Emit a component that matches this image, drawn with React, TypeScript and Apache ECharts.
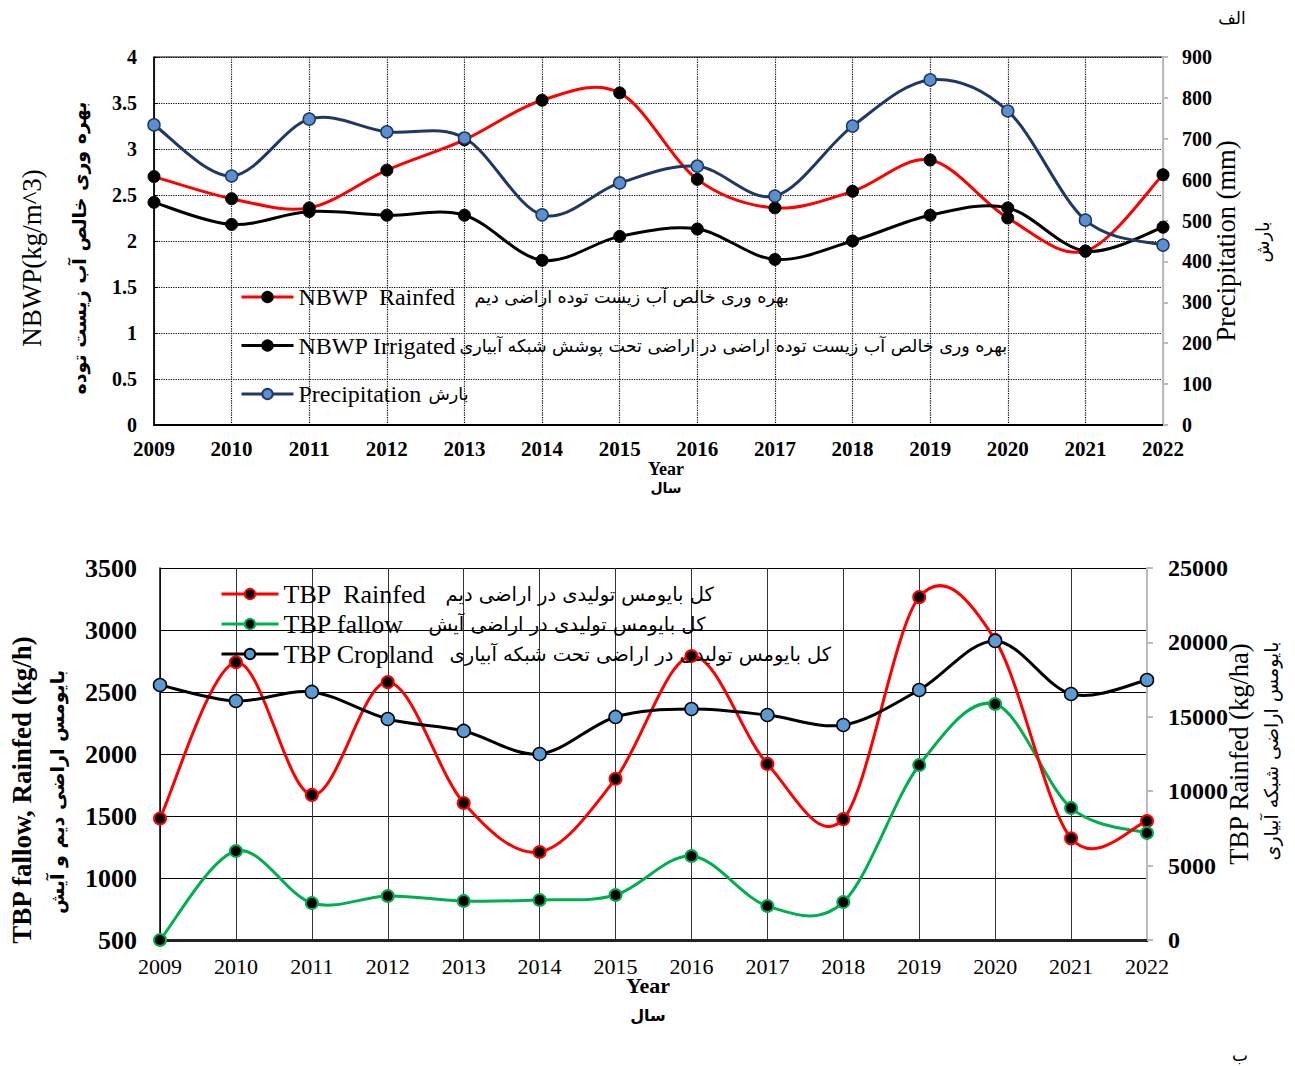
import React, { useEffect, useRef } from "react";
import * as echarts from "echarts";

const years = ["2009","2010","2011","2012","2013","2014","2015","2016","2017","2018","2019","2020","2021","2022"];

// top chart
const nbwpRainfed = [2.70, 2.46, 2.36, 2.77, 3.10, 3.53, 3.61, 2.67, 2.36, 2.54, 2.88, 2.25, 1.89, 2.72];
const nbwpIrrigated = [2.42, 2.18, 2.32, 2.28, 2.28, 1.79, 2.05, 2.13, 1.80, 2.00, 2.28, 2.36, 1.89, 2.15];
const precipitation = [734, 609, 748, 717, 702, 514, 592, 633, 560, 731, 844, 768, 501, 440];

// bottom chart
const tbpRainfed = [1480, 2740, 1670, 2580, 1605, 1210, 1800, 2790, 1920, 1475, 3265, 2920, 1320, 1460];
const tbpFallow = [500, 1218, 798, 855, 815, 823, 863, 1177, 774, 806, 1911, 2403, 1565, 1363];
const tbpCropland = [17140, 16060, 16670, 14850, 14050, 12500, 14990, 15520, 15120, 14450, 16800, 20100, 16530, 17470];

const SERIF = "Liberation Serif";
const FA = "DejaVu Sans";

const legendLabels: Record<string, [string, string, string]> = {
  "NBWP Rainfed": ["e1", "NBWP  Rainfed", "بهره وری خالص آب زیست توده اراضی دیم"],
  "NBWP Irrigated": ["e2", "NBWP Irrigated", "بهره وری خالص آب زیست توده اراضی در اراضی تحت پوشش شبکه آبیاری"],
  "Precipitation": ["e3", "Precipitation", "بارش"],
  "TBP Rainfed": ["b1", "TBP  Rainfed", "کل بایومس تولیدی در اراضی دیم"],
  "TBP fallow": ["b2", "TBP fallow", "کل بایومس تولیدی در اراضی آیش"],
  "TBP Cropland": ["b3", "TBP Cropland", "کل بایومس تولیدی در اراضی تحت شبکه آبیاری"],
};

function vText(x: number, y: number, text: string, size: number, bold: boolean, family: string) {
  return {
    type: "text",
    x,
    y,
    rotation: Math.PI / 2,
    style: {
      text,
      fontSize: size,
      fontWeight: bold ? "bold" : "normal",
      fontFamily: family,
      fill: "#000",
      textAlign: "center",
      textVerticalAlign: "middle",
    },
  };
}
function hText(x: number, y: number, text: string, size: number, bold: boolean, family: string) {
  return {
    type: "text",
    x,
    y,
    style: {
      text,
      fontSize: size,
      fontWeight: bold ? "bold" : "normal",
      fontFamily: family,
      fill: "#000",
      textAlign: "center",
      textVerticalAlign: "middle",
    },
  };
}

// Excel-like smoothed curve (Catmull-Rom through the data points), drawn through the axes via api.coord
function curveSeries(name: string, values: number[], xIdx: number, yIdx: number, color: string) {
  return {
    name,
    type: "custom",
    xAxisIndex: xIdx,
    yAxisIndex: yIdx,
    data: [[0, values[0]]],
    encode: { x: 0, y: 1 },
    silent: true,
    z: 2,
    renderItem: (params: any, api: any) => {
      const pts = values.map((v, i) => api.coord([i, v]));
      const t = 1 / 6;
      let d = `M${pts[0][0]},${pts[0][1]}`;
      for (let i = 0; i < pts.length - 1; i++) {
        const p0 = pts[i - 1] || pts[i];
        const p1 = pts[i];
        const p2 = pts[i + 1];
        const p3 = pts[i + 2] || p2;
        const c1x = p1[0] + (p2[0] - p0[0]) * t;
        const c1y = p1[1] + (p2[1] - p0[1]) * t;
        const c2x = p2[0] - (p3[0] - p1[0]) * t;
        const c2y = p2[1] - (p3[1] - p1[1]) * t;
        d += ` C${c1x},${c1y} ${c2x},${c2y} ${p2[0]},${p2[1]}`;
      }
      return {
        type: "path",
        shape: { pathData: d },
        style: { fill: "none", stroke: color, lineWidth: 3 },
      };
    },
  };
}

function markerSeries(name: string, values: number[], xIdx: number, yIdx: number, lineColor: string, fill: string, border: string, bw: number, size: number) {
  return {
    name,
    type: "line",
    xAxisIndex: xIdx,
    yAxisIndex: yIdx,
    data: values,
    symbol: "circle",
    symbolSize: size,
    z: 3,
    lineStyle: { color: lineColor, width: 3, opacity: 0 },
    itemStyle: { color: fill, borderColor: border, borderWidth: bw },
  };
}

export default function App() {
  const ref = useRef<HTMLDivElement>(null);
  useEffect(() => {
    document.body.style.margin = "0";
    if (!ref.current) return;
    const chart = echarts.init(ref.current, null, { renderer: "svg" });
    const enTop = (w: number) => ({ fontFamily: SERIF, fontSize: 24, color: "#000", width: w, lineHeight: 26 });
    const enBot = (w: number) => ({ fontFamily: SERIF, fontSize: 26, color: "#000", width: w, lineHeight: 28 });
    const legendFormatter = (name: string) => {
      const l = legendLabels[name];
      return `{${l[0]}|${l[1]}}{fa|${l[2]}}`;
    };
    const legItem = (name: string, color: string) => ({ name, lineStyle: { color, width: 3, opacity: 1 } });
    const option: any = {
      animation: false,
      backgroundColor: "#fff",
      grid: [
        { left: 154, right: 132, top: 57, height: 368, show: true, borderColor: "#000", borderWidth: 1 },
        { left: 160, right: 148, top: 568, height: 372, show: false },
      ],
      legend: [
        {
          orient: "vertical",
          left: 240,
          top: 285,
          padding: 0,
          itemWidth: 52,
          itemHeight: 13,
          itemGap: 24.5,
          data: [legItem("NBWP Rainfed", "#ff0000"), legItem("NBWP Irrigated", "#000"), legItem("Precipitation", "#1f3864")],
          formatter: legendFormatter,
          textStyle: {
            rich: {
              e1: enTop(176),
              e2: enTop(161),
              e3: enTop(130),
              fa: { fontFamily: FA, fontSize: 17.5, color: "#000", lineHeight: 26 },
            },
          },
        },
        {
          orient: "vertical",
          left: 220,
          top: 581,
          padding: 0,
          itemWidth: 57,
          itemHeight: 13,
          itemGap: 4,
          data: [legItem("TBP Rainfed", "#ff0000"), legItem("TBP fallow", "#00b050"), legItem("TBP Cropland", "#000")],
          formatter: legendFormatter,
          textStyle: {
            rich: {
              b1: enBot(162),
              b2: enBot(145),
              b3: enBot(166),
              fa: { fontFamily: FA, fontSize: 19.5, color: "#000", lineHeight: 28 },
            },
          },
        },
      ],
      xAxis: [
        {
          type: "category",
          gridIndex: 0,
          data: years,
          boundaryGap: false,
          axisLine: { lineStyle: { color: "#000", width: 2 } },
          axisTick: { show: false },
          axisLabel: { fontFamily: SERIF, fontWeight: "bold", fontSize: 21, color: "#000", margin: 13 },
          splitLine: { show: true, lineStyle: { type: "dotted", color: "#000", width: 1.2 } },
        },
        {
          type: "category",
          gridIndex: 1,
          data: years,
          boundaryGap: false,
          axisLine: { lineStyle: { color: "#222", width: 3 } },
          axisTick: { show: false },
          axisLabel: { fontFamily: SERIF, fontSize: 22, color: "#000", margin: 15 },
          splitLine: { show: true, lineStyle: { type: "solid", color: "#333", width: 1 } },
        },
      ],
      yAxis: [
        {
          type: "value",
          gridIndex: 0,
          min: 0,
          max: 4,
          interval: 0.5,
          axisLine: { show: true, lineStyle: { color: "#000", width: 1.5 } },
          axisTick: { show: true, inside: true, length: 4, lineStyle: { color: "#000" } },
          axisLabel: { fontFamily: SERIF, fontWeight: "bold", fontSize: 20, color: "#000", margin: 17 },
          splitLine: { show: true, lineStyle: { type: "dotted", color: "#000", width: 1.2 } },
        },
        {
          type: "value",
          gridIndex: 0,
          position: "right",
          min: 0,
          max: 900,
          interval: 100,
          axisLine: { show: true, lineStyle: { color: "#bbb", width: 2 } },
          axisTick: { show: true, length: 5, lineStyle: { color: "#bbb", width: 2 } },
          axisLabel: { fontFamily: SERIF, fontWeight: "bold", fontSize: 20, color: "#000", margin: 19 },
          splitLine: { show: false },
        },
        {
          type: "value",
          gridIndex: 1,
          min: 500,
          max: 3500,
          interval: 500,
          axisLine: { show: true, lineStyle: { color: "#000", width: 1.5 } },
          axisTick: { show: false },
          axisLabel: { fontFamily: SERIF, fontWeight: "bold", fontSize: 26, color: "#000", margin: 23, formatter: (v: number) => String(v) },
          splitLine: { show: true, lineStyle: { type: "solid", color: "#000", width: 1 } },
        },
        {
          type: "value",
          gridIndex: 1,
          position: "right",
          min: 0,
          max: 25000,
          interval: 5000,
          axisLine: { show: true, lineStyle: { color: "#bbb", width: 2 } },
          axisTick: { show: true, length: 6, lineStyle: { color: "#bbb", width: 2 } },
          axisLabel: { fontFamily: SERIF, fontWeight: "bold", fontSize: 24, color: "#000", margin: 21, formatter: (v: number) => String(v) },
          splitLine: { show: false },
        },
      ],
      series: [
        curveSeries("c1", nbwpRainfed, 0, 0, "#ff0000"),
        curveSeries("c2", nbwpIrrigated, 0, 0, "#000"),
        curveSeries("c3", precipitation, 0, 1, "#1f3864"),
        curveSeries("c4", tbpFallow, 1, 2, "#00b050"),
        curveSeries("c5", tbpRainfed, 1, 2, "#ff0000"),
        curveSeries("c6", tbpCropland, 1, 3, "#000"),
        markerSeries("NBWP Rainfed", nbwpRainfed, 0, 0, "#ff0000", "#000", "#000", 1, 12),
        markerSeries("NBWP Irrigated", nbwpIrrigated, 0, 0, "#000", "#000", "#000", 1, 12),
        markerSeries("Precipitation", precipitation, 0, 1, "#1f3864", "#5b8fcf", "#1f3864", 1.5, 12),
        markerSeries("TBP Rainfed", tbpRainfed, 1, 2, "#ff0000", "#000", "#ff0000", 2, 12),
        markerSeries("TBP fallow", tbpFallow, 1, 2, "#00b050", "#000", "#00b050", 2, 12),
        markerSeries("TBP Cropland", tbpCropland, 1, 3, "#000", "#5b9bd5", "#000", 1.5, 13),
      ],
      graphic: [
        hText(1232, 18, "الف", 17, false, FA),
        hText(666, 469, "Year", 18, true, SERIF),
        hText(666, 488, "سال", 14, true, FA),
        vText(32, 258, "NBWP(kg/m^3)", 27, false, SERIF),
        vText(79, 248, "بهره وری خالص آب زیست توده", 19, true, FA),
        vText(1226, 241, "Precipitation (mm)", 26.5, false, SERIF),
        vText(1262, 242, "بارش", 18, false, FA),
        hText(648, 985, "Year", 22, true, SERIF),
        hText(648, 1015, "سال", 16, true, FA),
        vText(22, 790, "TBP fallow, Rainfed (kg/h)", 27, true, SERIF),
        vText(57, 792, "بایومس اراضی دیم و آیش", 19, true, FA),
        vText(1239, 754, "TBP Rainfed (kg/ha)", 26.5, false, SERIF),
        vText(1271, 751, "بایومس اراضی شبکه آبیاری", 19, false, FA),
        hText(1240, 1055, "ب", 17, false, FA),
      ],
    };
    chart.setOption(option);
    return () => chart.dispose();
  }, []);
  return <div ref={ref} style={{ width: 1295, height: 1066 }} />;
}
